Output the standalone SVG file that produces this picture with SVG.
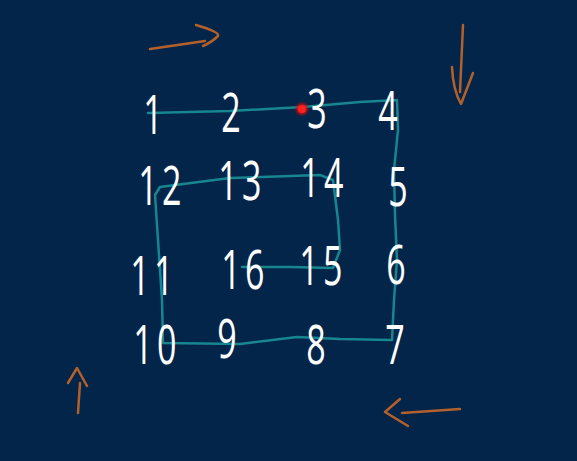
<svg xmlns="http://www.w3.org/2000/svg" width="577" height="461" viewBox="0 0 577 461">
<defs>
<style>
.num{font-family:"Open Sans","DejaVu Sans",sans-serif;font-weight:400;font-size:40px;fill:#ffffff;text-anchor:middle;letter-spacing:5px}
.path{fill:none;stroke:#17868f;stroke-width:2.5;stroke-linecap:round;stroke-linejoin:round}
.arrow{fill:none;stroke:#b4602c;stroke-width:2.5;stroke-linecap:round;stroke-linejoin:round}
</style>
<radialGradient id="glow">
<stop offset="0" stop-color="#ff1a1a"/>
<stop offset="0.5" stop-color="#e01010" stop-opacity="0.8"/>
<stop offset="1" stop-color="#c00000" stop-opacity="0"/>
</radialGradient>
</defs>
<rect width="577" height="461" fill="#032549"/>
<g id="connectors">
<path class="path" d="M148,113 L230,111 L303,107 L360,102 L397,100 L398,130 L394,170 L395,215 L397,260 L394,300 L392,340 L340,339 L297,337 L240,344 L163,343 L162,300 L158,240 L155,195 L160,187 L230,178 L320,175 L333,180 L338,220 L340,250 L333,268 L290,267 L242,267"/>
</g>
<g id="arrow-top"><path class="arrow" d="M150,49 L205,41 M196,25 Q220,32 218,36 Q212,42 203,46"/></g>
<g id="arrow-right"><path class="arrow" d="M463,25 L460,92 M452,67 Q453,90 461,104 L473,73"/></g>
<g id="arrow-bottom"><path class="arrow" d="M460,409 L402,413 M400,399 L385,412 L408,426"/></g>
<g id="arrow-left"><path class="arrow" d="M78,413 L80,383 M68,383 L77,368 L87,386"/></g>
<g id="cells">
<g id="n1"><text class="num" transform="translate(155,134) scale(0.85,1.35)">1</text></g>
<g id="n2"><text class="num" transform="translate(233,132) scale(0.85,1.35)">2</text></g>
<g id="n3"><text class="num" transform="translate(319,128) scale(0.85,1.35)">3</text></g>
<g id="n4"><text class="num" transform="translate(390,130) scale(0.85,1.35)">4</text></g>
<g id="n12"><text class="num" transform="translate(162,205) scale(0.85,1.35)">12</text></g>
<g id="n13"><text class="num" transform="translate(242,200) scale(0.85,1.35)">13</text></g>
<g id="n14"><text class="num" transform="translate(324,197) scale(0.85,1.35)">14</text></g>
<g id="n5"><text class="num" transform="translate(400,206) scale(0.85,1.35)">5</text></g>
<g id="n11"><text class="num" transform="translate(154,295) scale(0.85,1.35)">11</text></g>
<g id="n16"><text class="num" transform="translate(245,289) scale(0.85,1.35)">16</text></g>
<g id="n15"><text class="num" transform="translate(323,285) scale(0.85,1.35)">15</text></g>
<g id="n6"><text class="num" transform="translate(398,284) scale(0.85,1.35)">6</text></g>
<g id="n10"><text class="num" transform="translate(157,364) scale(0.85,1.35)">10</text></g>
<g id="n9"><text class="num" transform="translate(229,358) scale(0.85,1.35)">9</text></g>
<g id="n8"><text class="num" transform="translate(318,364) scale(0.85,1.35)">8</text></g>
<g id="n7"><text class="num" transform="translate(397,364) scale(0.85,1.35)">7</text></g>
</g>
<g id="pointer"><circle cx="302" cy="109" r="8" fill="url(#glow)"/><circle cx="302" cy="109" r="4" fill="#ff2020"/></g>
</svg>
